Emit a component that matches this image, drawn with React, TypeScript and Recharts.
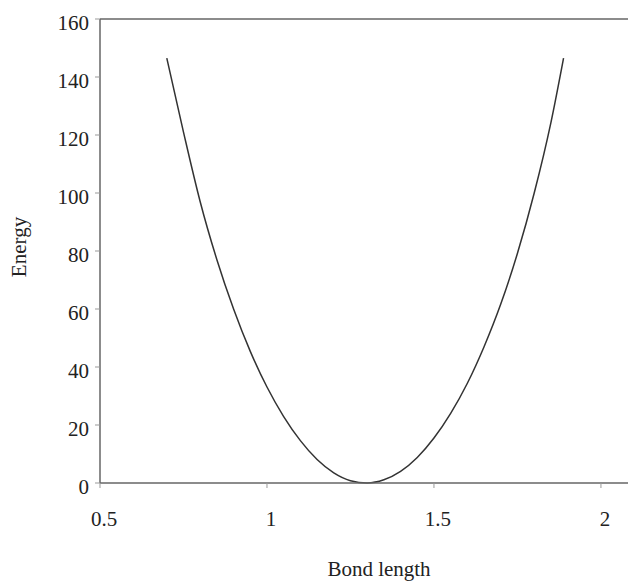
import React from "react";
import { LineChart, Line, XAxis, YAxis, ReferenceLine, Label } from "recharts";

const bondLength = [0.7, 0.75, 0.8, 0.85, 0.9, 0.95, 1.0, 1.05, 1.1, 1.15, 1.2, 1.25, 1.3, 1.35, 1.4, 1.45, 1.5, 1.55, 1.6, 1.65, 1.7, 1.75, 1.8, 1.85, 1.888];
const energy = [146.5, 121, 97, 77, 60, 45.4, 33.1, 22.9, 14.6, 8.1, 3.5, 0.8, 0, 1.1, 4.0, 8.8, 15.5, 24.0, 34.4, 47.0, 61.7, 79.2, 99.9, 124.2, 146.5];
const xTicks = [0.5, 1, 1.5, 2];
const yTicks = [0, 20, 40, 60, 80, 100, 120, 140, 160];

const data = bondLength.map((x, i) => ({ x, e: energy[i] }));

const FONT = "'Liberation Serif', 'Times New Roman', serif";
const AXIS = "#666";

const YTick = (props: any) => {
  const { x, y, payload } = props;
  return (
    <text x={x} y={y} dy={11} textAnchor="end" fontFamily={FONT} fontSize={21} fill="#222">
      {payload.value}
    </text>
  );
};

const XTick = (props: any) => {
  const { x, y, payload } = props;
  return (
    <text x={x + 4} y={y} dy={36} textAnchor="middle" fontFamily={FONT} fontSize={21} fill="#222">
      {payload.value}
    </text>
  );
};

export default function App() {
  return (
    <div style={{ width: 628, height: 582, background: "#fff" }}>
      <style>{`body{margin:0;overflow:hidden;}`}</style>
      <LineChart width={628} height={582} data={data} margin={{ top: 19, right: 0, bottom: 0, left: 0 }}>
        <XAxis
          dataKey="x"
          type="number"
          domain={[0.5, 2.081]}
          ticks={xTicks}
          allowDataOverflow
          height={99}
          tickSize={5}
          tickMargin={2}
          stroke={AXIS}
          strokeWidth={1.5}
          tick={<XTick />}
          tickLine={{ stroke: "#999", strokeWidth: 1 }}
        >
          <Label
            content={() => (
              <text x={379} y={576} textAnchor="middle" fontFamily={FONT} fontSize={21} fill="#222">
                Bond length
              </text>
            )}
          />
        </XAxis>
        <YAxis
          type="number"
          domain={[0, 160]}
          ticks={yTicks}
          width={100}
          tickSize={5}
          tickMargin={6}
          stroke={AXIS}
          strokeWidth={1.5}
          tick={<YTick />}
          tickLine={{ stroke: "#999", strokeWidth: 1 }}
        >
          <Label
            content={() => (
              <text
                x={26}
                y={247}
                textAnchor="middle"
                transform="rotate(-90, 26, 247)"
                fontFamily={FONT}
                fontSize={21}
                fill="#222"
              >
                Energy
              </text>
            )}
          />
        </YAxis>
        <ReferenceLine y={160} stroke={AXIS} strokeWidth={1.5} ifOverflow="visible" />
        <Line
          dataKey="e"
          type="monotone"
          stroke="#333"
          strokeWidth={1.5}
          dot={false}
          isAnimationActive={false}
        />
      </LineChart>
    </div>
  );
}
